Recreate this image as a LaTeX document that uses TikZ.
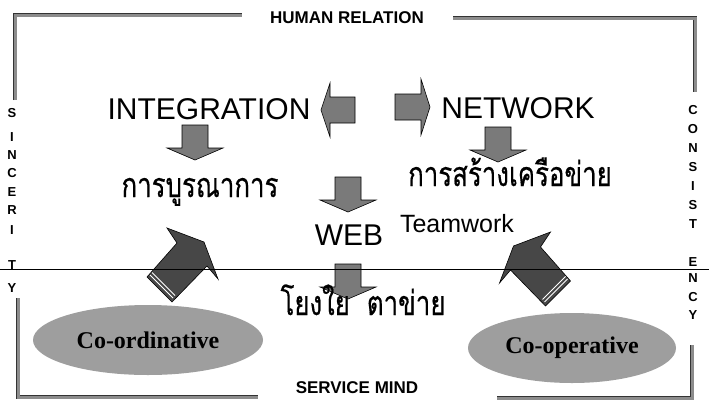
\documentclass[tikz,border=0pt]{standalone}
\usepackage{fontspec}
\setmainfont{Liberation Sans}
\newfontfamily\thaifont[Script=Thai, FakeStretch=0.76, FakeBold=0.4]{Loma}
\newfontfamily\romanfont{Liberation Serif}
\usetikzlibrary{shapes.geometric}
\def\bigsize{30}

\begin{document}
\begin{tikzpicture}[x=1pt,y=-1pt,line join=miter]
    \tikzstyle{frame}=[draw=black!80, double=black!45, double distance=3pt, line width=0.8pt]
    \tikzstyle{heading}=[font=\fontsize{17}{17}\selectfont\bfseries, anchor=base, inner sep=0pt]
    \tikzstyle{sideletter}=[font=\fontsize{13}{13}\selectfont\bfseries, inner sep=0pt]
    \tikzstyle{bigword}=[font=\fontsize{\bigsize}{\bigsize}\selectfont, anchor=base, inner sep=0pt]
    \tikzstyle{thaiword}=[font=\thaifont\fontsize{34}{34}\selectfont, anchor=base, inner sep=0pt]
    \tikzstyle{blockarrow}=[draw=black, line width=0.6pt, fill=black!52]
    \tikzstyle{fatarrow}=[draw=black, line width=0.6pt, fill=black!72]
    \tikzstyle{stripe}=[draw=white, line width=0.8pt]
    \tikzstyle{blob}=[ellipse, fill=black!38, inner sep=0pt, minimum height=70pt, font=\romanfont\bfseries\fontsize{24}{24}\selectfont]

    \useasboundingbox[fill=white] (0,0) rectangle (709,405);

    % Draw the frame corners
    \draw[frame] (15,100) -- (15,15) -- (242,15);
    \draw[frame] (453,18) -- (695,18) -- (695,92);
    \draw[frame] (18,298) -- (18,397) -- (258,397);
    \draw[frame] (497,398) -- (692,398) -- (692,345);

    % Headings at top and bottom
    \node[heading] (human) at (347,23) {HUMAN RELATION};
    \node[heading] (service) at (357,393) {SERVICE MIND};

    % Letters down the two sides
    \foreach \ch / \y [count=\i] in {S/113,I/137,N/155,C/173,E/192,R/210,I/230,T/265,Y/288}
        \node[sideletter] (sin-\i) at (12,\y) {\ch};
    \foreach \ch / \y [count=\i] in {C/110,O/129,N/148,S/167,I/186,S/205,T/224,E/262,N/278,C/297,Y/315}
        \node[sideletter] (con-\i) at (693,\y) {\ch};

    % The two ellipses
    \node[blob, minimum width=230pt] (coord) at (148,340) {Co-ordinative};
    \node[blob, minimum width=208pt] (coop) at (572,348) {Co-operative};

    % Draw the down arrows
    \foreach \x / \y in {195/125, 498/127, 348/177, 348/264}
        \draw[blockarrow] (\x-13,\y) -- (\x+13,\y) -- (\x+13,\y+23) -- (\x+28,\y+23)
            -- (\x,\y+35) -- (\x-28,\y+23) -- (\x-13,\y+23) -- cycle;

    % Left and right arrows in the top row
    \draw[blockarrow] (355,97) -- (330,97) -- (330,83) -- (321,110) -- (330,137) -- (330,123) -- (355,123) -- cycle;
    \draw[blockarrow] (395,94) -- (421,94) -- (421,79) -- (430,107) -- (421,135) -- (421,120) -- (395,120) -- cycle;

    % The two big slanted arrows
    \draw[fatarrow] (147,277) -- (177,243) -- (167,228) -- (204,242) -- (218,279) -- (207,266) -- (172,302) -- cycle;
    \draw[stripe] (150,275) -- (173,298);
    \draw[stripe] (152,272.5) -- (175,295.5);
    \draw[fatarrow] (570.5,281) -- (540.5,247) -- (550.5,232) -- (513.5,246) -- (499.5,283) -- (510.5,270) -- (545.5,306) -- cycle;
    \draw[stripe] (567.5,279) -- (544.5,302);
    \draw[stripe] (565.5,276.5) -- (542.5,299.5);

    % Words
    \node[bigword] (integration) at (209,119) {INTEGRATION};
    \node[bigword] (network) at (518,118) {NETWORK};
    \node[bigword] (web) at (349,245) {WEB};
    \node[font=\fontsize{25}{25}\selectfont, anchor=base, inner sep=0pt] (teamwork) at (457,232) {Teamwork};
    \node[thaiword] (boorana) at (200,197) {การบูรณาการ};
    \node[thaiword] (kruakhai) at (510,186) {การสร้างเครือข่าย};
    \node[thaiword] (yongyai) at (363,315) {โยงใย\hspace{0.5em}ตาข่าย};

    % Thin line across the page
    \coordinate (cut-w) at (0,269);
    \coordinate (cut-e) at (709,269);
    \draw[line width=0.9pt] (cut-w) -- (cut-e);
\end{tikzpicture}
\end{document}
